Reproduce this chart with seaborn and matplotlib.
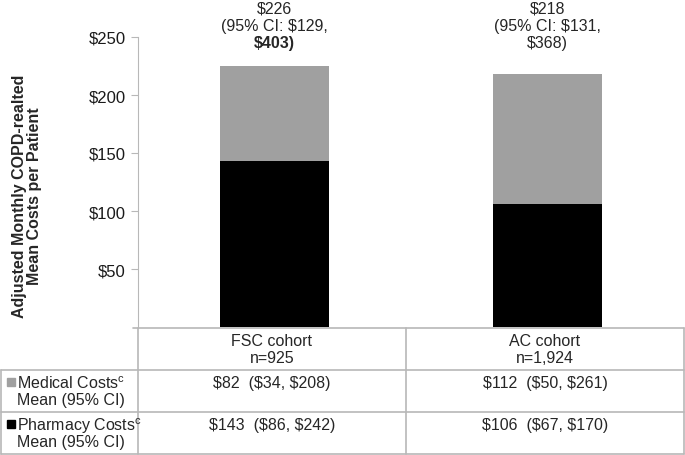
import matplotlib
matplotlib.use("Agg")
import matplotlib.pyplot as plt
import pandas as pd
import seaborn as sns

# values
cohorts = ["FSC cohort", "AC cohort"]
cohort_n = ["n=925", "n=1,924"]
pharmacy = [143, 106]
medical = [82, 112]
total_labels = [["$226", "(95% CI: $129,", "$403)"],
                ["$218", "(95% CI: $131,", "$368)"]]
medical_cells = ["$82  ($34, $208)", "$112  ($50, $261)"]
pharmacy_cells = ["$143  ($86, $242)", "$106  ($67, $170)"]
yticks = [50, 100, 150, 200, 250]

sns.set_style("white")
plt.rcParams['font.family'] = ['Liberation Sans', 'DejaVu Sans']
plt.rcParams['font.size'] = 11.5

GRAY = "#a0a0a0"
LINE = "#b8b8b8"
FS = 11.5

df = pd.DataFrame({"cohort": cohorts, "pharmacy": pharmacy, "medical": medical})
df["total"] = df["pharmacy"] + df["medical"]

fig = plt.figure(figsize=(6.85, 4.56), dpi=100)
W, H = 685, 456
ax = fig.add_axes([138 / W, 1 - 328 / H, 546 / W, 290 / H])

sns.barplot(data=df, x="cohort", y="total", color=GRAY, width=0.4,
            saturation=1, linewidth=0, ax=ax)
sns.barplot(data=df, x="cohort", y="pharmacy", color="black", width=0.4,
            saturation=1, linewidth=0, ax=ax)

ax.set_xlim(-0.5, 1.5)
ax.set_ylim(0, 250)
ax.set_yticks(yticks)
ax.set_yticklabels([f"${v}" for v in yticks], fontsize=12, color="#1a1a1a")
ax.set_xticks([])
ax.set_xlabel("")
ax.set_ylabel("")
for s in ["top", "right", "bottom"]:
    ax.spines[s].set_visible(False)
ax.spines["left"].set_color(LINE)
ax.tick_params(axis="y", left=True, length=5, color=LINE, pad=4)

# label above each bar (same height for both bars)
offsets = [29, 11, -6]
for i, lines in enumerate(total_labels):
    for j, line in enumerate(lines):
        bold = i == 0 and j == 2
        ax.annotate(line, (i, 250), xytext=(0, offsets[j]),
                    textcoords="offset pixels", ha="center", va="center",
                    fontsize=FS, annotation_clip=False,
                    fontweight="bold" if bold else "normal")

fig.text(27 / W, 1 - 196 / H,
         "Adjusted Monthly COPD-realted\nMean Costs per Patient",
         rotation=90, ha="center", va="center", fontsize=11.5,
         fontweight="bold", linespacing=1.0)

# table under the chart, drawn in pixel coordinates
tab = fig.add_axes([0, 0, 1, 1], zorder=-1)
tab.set_xlim(0, W)
tab.set_ylim(H, 0)
tab.axis("off")

hl = [(133, 684, 329), (1, 684, 371), (1, 684, 413), (1, 684, 455)]
for x0, x1, y in hl:
    tab.plot([x0, x1], [y, y], color=LINE, lw=1.2)
vl = [(1, 371, 455), (138, 329, 455), (406, 329, 455), (684, 329, 455)]
for x, y0, y1 in vl:
    tab.plot([x, x], [y0, y1], color=LINE, lw=1.2)

col_x = [272, 545]
for i in range(2):
    tab.text(col_x[i], 342, cohorts[i], ha="center", va="center", fontsize=FS)
    tab.text(col_x[i], 359, cohort_n[i], ha="center", va="center", fontsize=FS)
    tab.text(col_x[i], 384, medical_cells[i], ha="center", va="center", fontsize=FS)
    tab.text(col_x[i], 426, pharmacy_cells[i], ha="center", va="center", fontsize=FS)

tab.add_patch(plt.Rectangle((7, 379), 8, 8, color=GRAY))
tab.add_patch(plt.Rectangle((7, 421), 8, 8, color="black"))
tab.text(17, 384, r"Medical Costs$\mathregular{^c}$", ha="left", va="center", fontsize=FS)
tab.text(17, 401, "Mean (95% CI)", ha="left", va="center", fontsize=FS)
tab.text(17, 426, r"Pharmacy Costs$\mathregular{^c}$", ha="left", va="center", fontsize=FS)
tab.text(17, 443, "Mean (95% CI)", ha="left", va="center", fontsize=FS)

fig.savefig("out.png", dpi=100)
